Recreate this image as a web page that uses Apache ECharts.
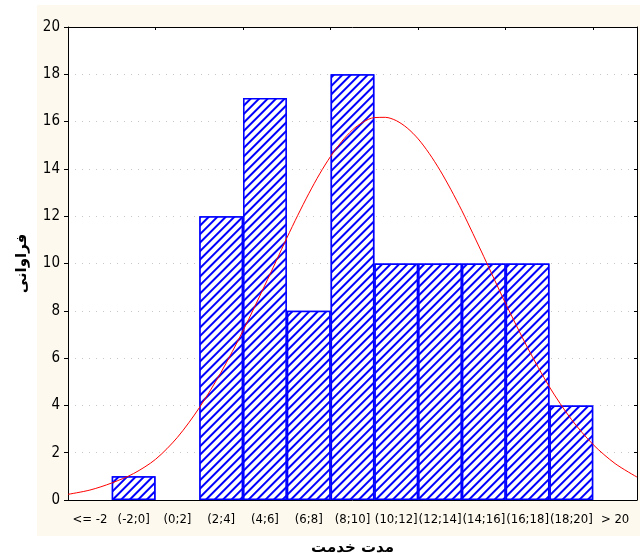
<!DOCTYPE html>
<html>
<head>
<meta charset="utf-8">
<script src="https://cdn.jsdelivr.net/npm/echarts@6/dist/echarts.min.js"></script>
<style>html,body{margin:0;padding:0;background:#fff;}#c{width:640px;height:558px;}</style>
</head>
<body>
<div id="c"></div>
<script>
const categories = ['<= -2', '(-2;0]', '(0;2]', '(2;4]', '(4;6]', '(6;8]', '(8;10]', '(10;12]', '(12;14]', '(14;16]', '(16;18]', '(18;20]', '> 20'];
const frequencies = [0, 1, 0, 12, 17, 8, 18, 10, 10, 10, 10, 4, 0];
const curveX = [-4, -3, -2, -1, 0, 1, 2, 3, 4, 5, 5.5, 6, 6.5, 7, 7.5, 8, 8.5, 9, 9.5, 10, 10.5, 11, 11.5, 12, 12.5, 13, 13.5, 14, 14.5, 15, 15.5, 16, 17, 18, 19, 20, 21, 22];
const curveY = [0.24, 0.42, 0.72, 1.12, 1.72, 2.65, 3.9, 5.41, 7.16, 9.09, 10.08, 11.08, 12.04, 12.95, 13.79, 14.53, 15.15, 15.65, 15.99, 16.17, 16.18, 16.04, 15.73, 15.27, 14.66, 13.94, 13.12, 12.23, 11.27, 10.29, 9.29, 8.3, 6.44, 4.78, 3.41, 2.34, 1.54, 0.97];
const yTicks = { min: 0, max: 20, interval: 2 };
const xTitle = 'مدت خدمت';
const yTitle = 'فراوانی';

const chart = echarts.init(document.getElementById('c'), null, { renderer: 'canvas' });
const narrow = '"DejaVu Sans Condensed", "Liberation Sans Narrow", sans-serif';
const option = {
  animation: false,
  aria: { enabled: true, decal: { show: true } },
  backgroundColor: '#ffffff',
  graphic: [
    { type: 'rect', z: -10, shape: { x: 37, y: 5, width: 603, height: 531 }, style: { fill: '#fdf9ee' }, silent: true }
  ],
  grid: { left: 68, right: 3, top: 27, bottom: 58, outerBoundsMode: 'none', containLabel: false, backgroundColor: '#ffffff', show: true, borderWidth: 0 },
  xAxis: [
    {
      type: 'category', data: categories, position: 'bottom', boundaryGap: true, z: 10,
      axisLine: { onZero: false, lineStyle: { color: '#000', width: 1 } },
      axisTick: { show: false },
      axisLabel: { color: '#000', fontFamily: narrow, fontSize: 13, margin: 13, interval: 0 },
      name: xTitle, nameLocation: 'middle', nameGap: 38,
      nameTextStyle: { color: '#000', fontFamily: 'DejaVu Sans, sans-serif', fontSize: 15, fontWeight: 'bold', verticalAlign: 'top', lineHeight: 20 }
    },
    {
      type: 'category', data: categories, position: 'top', boundaryGap: true,
      axisLine: { onZero: false, lineStyle: { color: '#000', width: 1 } },
      axisTick: { show: true, inside: true, length: 3, lineStyle: { color: '#000' } },
      axisLabel: { show: false }
    },
    { type: 'value', min: -4, max: 22, show: false }
  ],
  yAxis: [
    {
      type: 'value', min: yTicks.min, max: yTicks.max, interval: yTicks.interval, position: 'left',
      axisLine: { show: true, onZero: false, lineStyle: { color: '#000', width: 1 } },
      axisTick: { show: true, length: 4, lineStyle: { color: '#000' } },
      axisLabel: { color: '#000', fontFamily: narrow, fontSize: 15, margin: 8 },
      splitLine: { show: true, lineStyle: { color: '#c8c8c8', type: [1, 6], width: 1 } },
      name: yTitle, nameLocation: 'middle', nameGap: 38, nameRotate: 90,
      nameTextStyle: { color: '#000', fontFamily: 'DejaVu Sans, sans-serif', fontSize: 15, fontWeight: 'bold' }
    },
    {
      type: 'value', min: yTicks.min, max: yTicks.max, interval: yTicks.interval, position: 'right',
      axisLine: { show: true, onZero: false, lineStyle: { color: '#000', width: 1 } },
      axisTick: { show: true, inside: true, length: 3, lineStyle: { color: '#000' } },
      axisLabel: { show: false }, splitLine: { show: false }
    }
  ],
  series: [
    {
      type: 'bar', xAxisIndex: 0, yAxisIndex: 0,
      data: frequencies.map(v => (v === 0 ? '-' : v)),
      barCategoryGap: '0%', z: 2,
      itemStyle: {
        color: '#ffffff', borderColor: '#0000ff', borderWidth: 1.5,
        decal: { symbol: 'rect', symbolSize: 1, color: '#0000ff', backgroundColor: '#ffffff', dashArrayX: [1, 0], dashArrayY: [1.2, 3.2], rotation: -Math.PI / 4 }
      }
    },
    {
      type: 'line', xAxisIndex: 2, yAxisIndex: 0, z: 5,
      data: curveX.map((x, i) => [x, curveY[i]]),
      smooth: 0.3, showSymbol: false,
      lineStyle: { color: '#ff0000', width: 1 },
      itemStyle: { color: '#ff0000' }
    }
  ]
};
chart.setOption(option);
</script>
</body>
</html>
